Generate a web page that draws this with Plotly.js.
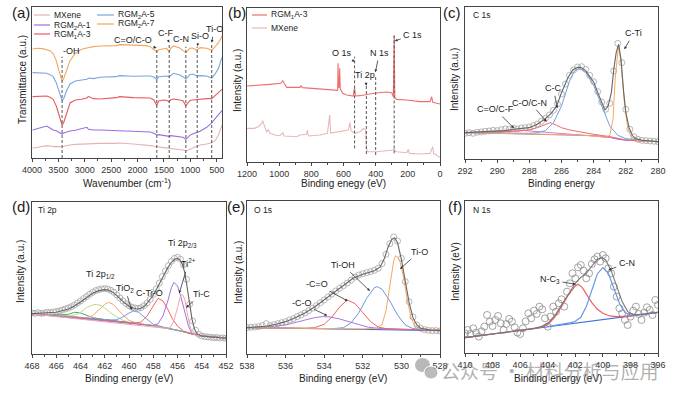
<!DOCTYPE html>
<html><head><meta charset="utf-8">
<script src="https://cdn.plot.ly/plotly-3.0.1.min.js"></script>
<style>html,body{margin:0;padding:0;background:#fff}#chart{width:675px;height:395px}</style>
</head><body><div id="chart"></div>
<script>
// ---------- (a) FTIR ----------
const ftirWn = [3990,3900,3800,3720,3660,3600,3540,3490,3450,3430,3400,3350,3280,3180,3060,2960,2930,2840,2710,2400,2340,2080,1830,1760,1690,1635,1600,1510,1450,1400,1370,1320,1200,1140,1085,1010,960,870,815,690,595,530,470,430,400];
const ftirRGM7 = [327,329,328,324,322,314,292,262,238,231,238,262,292,314,326,330,331,334,336,337,340,338,337,334,326,318,325,327,329,319,329,336,330,322,316,329,330,323,331,329,323,334,345,356,366];
const ftirRGM5 = [256,255,253,254,250,244,226,200,180,172,178,200,222,231,234,236,240,238,242,244,247,245,246,246,243,235,244,246,246,243,248,254,249,244,236,250,252,246,247,246,240,252,268,284,302];
const ftirRGM3 = [184,185,184,186,182,176,156,130,106,99,106,132,165,174,176,180,185,178,177,181,184,181,181,180,174,157,171,174,173,168,175,177,174,172,157,172,174,176,177,178,178,187,195,200,206];
const ftirRGM1 = [84,88,92,96,90,84,82,78,74,72,75,78,81,83,88,92,86,84,84,82,83,81,79,78,74,69,70,67,66,65,67,66,65,62,56,68,72,77,80,92,105,118,128,136,142];
const ftirMXene = [29,31,34,37,36,34,35,34,33,33,35,37,39,41,42,43,43,44,44,44,45,42,39,37,35,33,33,31,30,28,28,27,26,24,21,26,30,36,39,42,46,52,68,85,99];
const ftirBands = [3430,1635,1400,1085,870,595];
const ftirBandNames = ['-OH','C=O/C-O','C-F','C-N','Si-O','Ti-O'];
const ftirSeriesNames = ['MXene','RGM<sub>2</sub>A-1','RGM<sub>1</sub>A-3','RGM<sub>2</sub>A-5','RGM<sub>2</sub>A-7'];

// ---------- (b) XPS survey ----------
const surveyBE_RGM = [1200,1155,1057,990,978,970,953,870,864,855,829,746,663,642,636,634,631,626,624,620,605,580,540,531,527,497,458,435,400,331,300,290,285,281,269,207,124,62,52,45,10,0];
const surveyRGM = [227,228,232,235,243,236,223,223,228,222,221,217,215,213,214,295,222,224,280,218,205,200,197,222,197,198,201,204,206,209,207,195,380,192,187,185,180,180,195,178,173,173];
const surveyBE_MX = [1200,1155,1130,1109,1103,1095,1088,1078,1067,1057,1026,995,976,970,891,870,830,825,818,746,700,686,680,622,570,560,552,528,497,476,462,457,451,394,331,290,285,280,269,207,197,190,124,62,45,40,31,10,0];
const surveyMX = [100,100,105,115,123,110,100,90,95,85,80,78,87,77,75,80,82,95,77,80,85,140,86,90,95,117,92,85,90,100,95,40,30,30,32,35,40,32,30,27,37,25,23,25,45,24,23,15,15];
const surveyLines = [531,458,400,285];
const surveyLineNames = ['O 1s','Ti 2p','N 1s','C 1s'];

// ---------- (c) C 1s ----------
const c1sBE = [292,291.75,291.5,291.25,291,290.75,290.5,290.25,290,289.75,289.5,289.25,289,288.75,288.5,288.25,288,287.75,287.5,287.25,287,286.75,286.5,286.25,286,285.75,285.5,285.25,285,284.75,284.5,284.25,284,283.75,283.5,283.25,283,282.75,282.5,282.25,282,281.75,281.5,281.25,281,280.75,280.5,280.25,280];
const c1sData = [78,80,78,81,82,84,85,87,86,89,91,90,93,91,94,95,97,101,106,114,123,133,147,166,196,226,252,268,277,278,270,252,233,203,172,150,168,265,348,290,150,90,68,60,57,56,55,54,53];
const c1sEnvBE = [292,291,290,289.5,289,288.5,288,287.5,287,286.6,286.3,286,285.6,285.3,285,284.8,284.5,284.2,284,283.7,283.5,283.3,283.1,282.9,282.75,282.6,282.45,282.3,282.15,282,281.8,281.6,281.4,281,280.5,280];
const c1sEnv = [80,82,84,86,90,92,95,105,122,140,160,200,245,268,276,276,266,245,232,195,170,148,160,200,270,320,345,300,210,140,95,72,62,57,55,53];
const c1sCC_BE = [292,289,288,287.5,287,286.5,286,285.5,285.2,284.9,284.5,284,283.5,283,282.5,282,281,280];
const c1sCC = [80,78,78,80,86,110,160,235,265,273,262,222,160,100,72,62,57,53];
const c1sCTi_BE = [292,288,285,284,283.3,283,282.8,282.65,282.45,282.3,282.1,281.9,281.7,281.4,281,280];
const c1sCTi = [80,77,73,70,66,72,120,250,343,290,175,100,70,58,55,53];
const c1sCO_BE = [292,290,289,288,287.5,287,286.7,286.3,286,285.5,285,284,283,282,280];
const c1sCO = [80,81,84,88,95,105,110,102,95,88,83,75,68,58,53];
const c1sCF_BE = [292,290.5,289.5,289,288.5,287.5,286.5,285,283,282,280];
const c1sCF = [80,82,86,88,87,83,78,74,66,58,53];
const c1sBg_BE = [292,290,288,286,284,283,282.5,282,281,280];
const c1sBg = [80,78,77,75,71,66,60,57,55,53];

// ---------- (d) Ti 2p ----------
const ti2pBE = [468,467.75,467.5,467.25,467,466.75,466.5,466.25,466,465.75,465.5,465.25,465,464.75,464.5,464.25,464,463.75,463.5,463.25,463,462.75,462.5,462.25,462,461.75,461.5,461.25,461,460.75,460.5,460.25,460,459.75,459.5,459.25,459,458.75,458.5,458.25,458,457.75,457.5,457.25,457,456.75,456.5,456.25,456,455.75,455.5,455.25,455,454.75,454.5,454.25,454,453.75,453.5,453.25,453,452.75,452.5,452.25,452];
const ti2pData = [124,123,125,123,124,126,125,127,128,130,133,136,139,143,148,154,160,167,173,180,186,191,194,196,197,196,192,186,178,169,160,152,146,141,139,138,140,146,154,165,180,196,214,233,250,266,279,288,291,285,268,225,150,100,72,60,55,53,52,51,50,50,49,49,48];
const ti2pEnvBE = [468,467,466,465,464.5,464,463.5,463,462.5,462,461.7,461.3,461,460.5,460,459.6,459.3,459,458.7,458.3,458,457.6,457.2,456.8,456.5,456.2,456,455.8,455.6,455.4,455.2,455,454.8,454.6,454.4,454,453,452];
const ti2pEnv = [122,123,126,136,145,157,170,183,191,194,193,185,176,158,144,138,136,138,145,162,177,204,232,260,276,286,288,283,270,245,200,148,105,76,62,55,51,48];
const tiBg_BE = [468,466,464,462,460,458,456,455,454,453,452];
const tiBg = [121,118,110,104,95,86,72,63,55,51,49];
const tiLG_BE = [468,466,465,464.5,464,463.5,463,462.7,462.3,462,461.5,461,460.5,460,458,456,454,452];
const tiLG = [121,118,115,118,126,140,148,150,146,139,124,112,102,96,86,72,55,49];
const tiOr_BE = [468,464,463.5,463,462.5,462,461.7,461.3,461,460.5,460,459.5,459,458,456,454,452];
const tiOr = [121,110,110,116,132,150,156,150,138,118,102,95,91,86,72,55,49];
const tiBl_BE = [468,462,461.5,461,460.5,460,459.6,459.2,458.8,458.3,458,457,456,454,452];
const tiBl = [121,104,103,104,112,124,130,126,114,98,90,80,72,55,49];
const tiRd_BE = [468,460,459.5,459,458.5,458,457.6,457.2,456.8,456.4,456,455.5,455,454,452];
const tiRd = [121,95,94,97,115,145,168,160,135,105,85,70,62,55,49];
const tiPu_BE = [468,458,457.6,457.2,456.8,456.5,456.3,456,455.7,455.4,455.1,454.8,454.4,452];
const tiPu = [121,86,92,115,160,200,216,205,170,125,85,62,56,49];
const tiPk_BE = [468,457,456.6,456.3,456,455.75,455.6,455.4,455.2,455,454.8,454.5,454,452];
const tiPk = [121,78,80,100,140,175,180,165,125,88,65,57,55,49];
const tiGr_BE = [468,466,465,464.5,464,463.5,463,462,460,458,456,454,452];
const tiGr = [121,118,120,126,124,117,110,104,95,86,72,55,49];

// ---------- (e) O 1s ----------
const o1sBE = [538,537.8,537.6,537.4,537.2,537,536.8,536.6,536.4,536.2,536,535.8,535.6,535.4,535.2,535,534.8,534.6,534.4,534.2,534,533.8,533.6,533.4,533.2,533,532.8,532.6,532.4,532.2,532,531.8,531.6,531.4,531.2,531,530.8,530.6,530.4,530.2,530,529.8,529.6,529.4,529.2,529,528.8,528.6,528.4,528.2,528];
const o1sData = [80,81,82,83,86,92,86,89,92,95,98,103,107,113,118,124,131,138,146,155,163,172,181,190,198,206,214,223,232,238,242,245,248,252,258,272,300,332,352,340,288,218,158,112,88,78,74,72,71,71,70];
const o1sEnvBE = [538,537.5,537,536.5,536,535.5,535,534.5,534,533.5,533,532.5,532,531.7,531.4,531.1,530.9,530.7,530.5,530.35,530.2,530,529.8,529.6,529.4,529.2,529,528.5,528];
const o1sEnv = [80,81,84,90,98,110,124,142,163,185,205,228,240,246,251,262,285,320,345,350,335,285,215,155,110,88,78,73,71];
const oPu_BE = [538,537,536,535.5,535,534.5,534.1,533.7,533.2,532.7,532.2,531.7,531,530,528];
const oPu = [80,82,88,95,103,110,113,112,106,97,88,81,77,75,72];
const oRd_BE = [538,535,534.5,534,533.6,533.2,532.8,532.4,532,531.6,531.2,530.8,530,528];
const oRd = [80,78,80,90,112,142,163,152,125,98,82,77,75,72];
const oBl_BE = [538,533.5,533,532.6,532.2,531.8,531.4,531.25,531,530.6,530.2,529.8,529.4,529,528];
const oBl = [80,77,80,95,125,168,200,203,195,160,118,88,77,75,73];
const oOr_BE = [538,532,531.3,531,530.8,530.6,530.4,530.3,530.1,529.9,529.7,529.5,529.3,529,528];
const oOr = [80,76,78,90,130,200,280,296,285,235,165,110,85,76,73];
const oBg_BE = [538,533,528];
const oBg = [80,75,71];

// ---------- (f) N 1s ----------
const n1sBE = [410,409.8,409.6,409.4,409.2,409,408.8,408.6,408.4,408.2,408,407.8,407.6,407.4,407.2,407,406.8,406.6,406.4,406.2,406,405.8,405.6,405.4,405.2,405,404.8,404.6,404.4,404.2,404,403.8,403.6,403.4,403.2,403,402.8,402.6,402.4,402.2,402,401.8,401.6,401.4,401.2,401,400.8,400.6,400.4,400.2,400,399.8,399.6,399.4,399.2,399,398.8,398.6,398.4,398.2,398,397.8,397.6,397.4,397.2,397,396.8,396.6,396.4,396.2,396];
const n1sData = [60,70,58,75,62,50,66,80,115,95,82,100,112,90,70,88,103,95,78,62,58,75,96,120,105,128,118,140,132,105,80,110,140,125,150,162,140,185,210,240,225,258,265,248,225,240,268,282,290,275,295,285,255,240,200,170,135,120,100,85,110,128,140,118,100,122,138,130,115,160,145];
const n1sEnvBE = [410,406,405,404.5,404,403.5,403,402.5,402,401.6,401.2,400.8,400.4,400.1,399.8,399.4,399,398.6,398.2,397.8,397,396];
const n1sEnv = [47,68,74,80,90,112,145,180,210,228,240,262,282,288,280,248,200,155,125,115,118,123];
const n1sNC3_BE = [410,408,406,405,404.5,404,403.5,403,402.5,402,401.8,401.5,401.2,400.8,400.4,400,399.5,399,398.5,398,397,396];
const n1sNC3 = [47,58,68,74,78,86,108,140,175,202,207,198,178,152,132,120,112,110,111,112,118,123];
const n1sCN_BE = [404,403,402.3,402,401.6,401.2,400.8,400.4,400,399.6,399.2,398.8,398.4,398,397,396];
const n1sCN = [80,86,92,96,108,140,190,238,257,240,195,150,122,115,117,123];
const n1sBg_BE = [410,396];
const n1sBg = [47,123];

// ---------- build ----------
const FF = 'Liberation Sans, Arial, Helvetica, sans-serif';
const W = 675, H = 395;
const P = v => v / W, Q = v => 1 - v / H;
const traces = [];
function ln(x, y, color, ax, w) {
  traces.push({type:'scatter', mode:'lines', x:x, y:y, xaxis:'x'+ax, yaxis:'y'+ax,
    line:{color:color, width:w||1.1}, hoverinfo:'skip', showlegend:false});
}
function dots(x, y, ax, size, color) {
  traces.push({type:'scatter', mode:'markers', x:x, y:y, xaxis:'x'+ax, yaxis:'y'+ax,
    marker:{symbol:'circle-open', size:size, color:color, line:{width:0.8}}, hoverinfo:'skip', showlegend:false});
}
const colA = {mx:'#e6b3b3', r1:'#9a6ee0', r3:'#e85a5e', r5:'#7aa6dd', r7:'#f4a55c'};
// (a)
ln(ftirWn, ftirMXene, colA.mx, '');
ln(ftirWn, ftirRGM1, colA.r1, '');
ln(ftirWn, ftirRGM3, colA.r3, '');
ln(ftirWn, ftirRGM5, colA.r5, '');
ln(ftirWn, ftirRGM7, colA.r7, '');
// (b)
ln(surveyBE_MX, surveyMX, '#e8b8b8', '2');
ln(surveyBE_RGM, surveyRGM, '#ee6e6e', '2');
// (c)
dots(c1sBE, c1sData, '3', 6, '#a5a5a5');
ln(c1sBg_BE, c1sBg, '#a070d0', '3', 1);
ln(c1sCF_BE, c1sCF, '#d080c8', '3', 1);
ln(c1sCO_BE, c1sCO, '#f06a6a', '3', 1);
ln(c1sCC_BE, c1sCC, '#6fa0e0', '3', 1);
ln(c1sCTi_BE, c1sCTi, '#f5a860', '3', 1);
ln(c1sEnvBE, c1sEnv, '#666666', '3', 1.1);
// (d)
dots(ti2pBE, ti2pData, '4', 6, '#a5a5a5');
ln(tiBg_BE, tiBg, '#2f8f6f', '4', 1);
ln(tiGr_BE, tiGr, '#4aa860', '4', 1);
ln(tiLG_BE, tiLG, '#b9d98c', '4', 1);
ln(tiOr_BE, tiOr, '#f5a860', '4', 1);
ln(tiBl_BE, tiBl, '#6fa0e0', '4', 1);
ln(tiRd_BE, tiRd, '#f06464', '4', 1);
ln(tiPu_BE, tiPu, '#a070e0', '4', 1);
ln(tiPk_BE, tiPk, '#f3a3ad', '4', 1);
ln(ti2pEnvBE, ti2pEnv, '#666666', '4', 1.1);
// (e)
dots(o1sBE, o1sData, '5', 6, '#a5a5a5');
ln(oBg_BE, oBg, '#3a66d0', '5', 1);
ln(oPu_BE, oPu, '#a878d8', '5', 1);
ln(oRd_BE, oRd, '#f06060', '5', 1);
ln(oBl_BE, oBl, '#6898e0', '5', 1);
ln(oOr_BE, oOr, '#f5a860', '5', 1);
ln(o1sEnvBE, o1sEnv, '#666666', '5', 1.1);
// (f)
dots(n1sBE, n1sData, '6', 7, '#8c8c8c');
ln(n1sBg_BE, n1sBg, '#3a70e0', '6', 1.2);
ln(n1sNC3_BE, n1sNC3, '#f06060', '6', 1.2);
ln(n1sCN_BE, n1sCN, '#6898e0', '6', 1.2);
ln(n1sEnvBE, n1sEnv, '#777777', '6', 1.1);

function xax(px0, px1, range, dtick, minor, anchor) {
  return {domain:[P(px0), P(px1)], range:range, autorange:false, anchor:anchor,
    showline:true, linecolor:'#444', linewidth:1, mirror:true,
    ticks:'outside', ticklen:3, tickwidth:1, tickcolor:'#444', dtick:dtick, tick0:0,
    tickfont:{size:9, color:'#333', family:FF}, showgrid:false, zeroline:false,
    minor:{ticks:'outside', ticklen:2, dtick:minor, tick0:0, tickcolor:'#444', tickwidth:1, showgrid:false},
    fixedrange:true};
}
function yax(top, bot, range, anchor) {
  return {domain:[Q(bot), Q(top)], range:range, autorange:false, anchor:anchor,
    showline:true, linecolor:'#444', linewidth:1, mirror:true, ticks:'', showticklabels:false,
    showgrid:false, zeroline:false, fixedrange:true};
}

const ann = [];
function txt(x, y, text, size, opts) {
  ann.push(Object.assign({xref:'paper', yref:'paper', x:P(x), y:Q(y), text:text, showarrow:false,
    xanchor:'center', yanchor:'middle',
    font:{size:size, color:'#222', family:FF}}, opts||{}));
}
function dlab(ax, x, y, text, size, opts) {
  ann.push(Object.assign({xref:'x'+ax, yref:'y'+ax, x:x, y:y, text:text, showarrow:false,
    xanchor:'center', yanchor:'middle',
    font:{size:size||9, color:'#222', family:FF}}, opts||{}));
}
function arrow(ax, tx, ty, lx, ly, text, size) {
  ann.push({xref:'x'+ax, yref:'y'+ax, axref:'x'+ax, ayref:'y'+ax, x:tx, y:ty, ax:lx, ay:ly,
    text:text, showarrow:true, arrowhead:2, arrowsize:0.7, arrowwidth:0.8, arrowcolor:'#333',
    standoff:0, startstandoff:1, font:{size:size||9, color:'#222', family:FF}});
}
// panel letters
txt(21, 13, '(a)', 15); txt(237, 13, '(b)', 15); txt(452, 13, '(c)', 15);
txt(21, 206, '(d)', 15); txt(236, 206, '(e)', 15); txt(455, 206, '(f)', 15);
// axis titles
txt(127, 183, 'Wavenumber (cm<sup>-1</sup>)', 10);
txt(343, 183, 'Binding enegy (eV)', 10);
txt(561, 183, 'Binding energy', 10);
txt(129, 378, 'Binding energy (eV)', 10);
txt(343, 378, 'Binding energy (eV)', 10);
txt(558, 378, 'Binding energy (eV)', 10);
txt(23, 80, 'Transmittance (a.u.)', 10, {textangle:-90});
txt(238, 80, 'Intensity (a.u.)', 10, {textangle:-90});
txt(455, 80, 'Intensity (a.u.)', 10, {textangle:-90});
txt(20, 272, 'Intensity (a.u.)', 10, {textangle:-90});
txt(238, 272, 'Intensity (a.u.)', 10, {textangle:-90});
txt(455, 272, 'Intensity (eV)', 10, {textangle:-90});

// legends (a) and (b)
const shapes = [];
function legItem(x0, x1, y, color, text) {
  shapes.push({type:'line', xref:'paper', yref:'paper', x0:P(x0), x1:P(x1), y0:Q(y), y1:Q(y), line:{color:color, width:1.2}});
  txt(x1 + 2, y, text, 8.5, {xanchor:'left'});
}
legItem(34, 50, 15, colA.mx, ftirSeriesNames[0]);
legItem(34, 50, 25, colA.r1, ftirSeriesNames[1]);
legItem(34, 50, 34, colA.r3, ftirSeriesNames[2]);
legItem(97, 114, 15, colA.r5, ftirSeriesNames[3]);
legItem(97, 114, 24, colA.r7, ftirSeriesNames[4]);
legItem(252, 267, 15, '#ee6e6e', 'RGM<sub>1</sub>A-3');
legItem(252, 267, 28, '#e8b8b8', 'MXene');

// (a) dashed bands + labels
const ftirTops = [304, 328, 344, 334, 334, 344];
ftirBands.forEach((b, i) => shapes.push({type:'line', xref:'x', yref:'y', x0:b, x1:b, y0:0, y1:ftirTops[i], line:{color:'#555', width:1, dash:'3px,2px'}}));
arrow('', 3430, 306, 3250, 320, ftirBandNames[0], 9);
arrow('', 1640, 330, 2090, 354, ftirBandNames[1], 9);
arrow('', 1400, 346, 1480, 374, ftirBandNames[2], 9);
arrow('', 1085, 336, 1180, 357, ftirBandNames[3], 9);
arrow('', 870, 336, 816, 365, ftirBandNames[4], 9);
arrow('', 595, 346, 551, 386, ftirBandNames[5], 9);

// (b) dashed lines + labels
const sTop = [315, 230, 257, 377], sBot = [40, 23, 20, 25];
surveyLines.forEach((b, i) => shapes.push({type:'line', xref:'x2', yref:'y2', x0:b, x1:b, y0:sBot[i], y1:sTop[i], line:{color:'#555', width:1, dash:'3px,2px'}}));
arrow('2', 531, 300, 611, 326, surveyLineNames[0], 9);
arrow('2', 458, 228, 466, 260, surveyLineNames[1], 9);
arrow('2', 402, 268, 377, 326, surveyLineNames[2], 9);
arrow('2', 281, 362, 170, 381, surveyLineNames[3], 9);

// (c) labels
dlab('3', 291.6, 433, 'C 1s', 8.5, {xanchor:'left'});
arrow('3', 282.09, 330, 281.53, 378, 'C-Ti', 9);
arrow('3', 286.26, 153, 286.5, 213, 'C-C', 9);
arrow('3', 286.92, 113, 287.96, 170, 'C-O/C-N', 9);
arrow('3', 288.95, 93, 290.13, 150, 'C=O/C-F', 9);
// (d)
dlab('4', 467.7, 433, 'Ti 2p', 8.5, {xanchor:'left'});
dlab('4', 462.39, 238, 'Ti 2p<sub>1/2</sub>', 9);
arrow('4', 459.78, 133, 460.33, 198, 'TiO<sub>2</sub>', 9);
arrow('4', 458.05, 160, 458.27, 183, 'C-Ti-O', 9);
dlab('4', 455.58, 333, 'Ti 2p<sub>2/3</sub>', 9);
arrow('4', 455.86, 183, 455.11, 273, 'Ti<sup>2+</sup>', 9);
arrow('4', 455.3, 140, 454.01, 180, 'Ti-C', 9);
// (e)
dlab('5', 537.75, 433, 'O 1s', 8.5, {xanchor:'left'});
arrow('5', 530.07, 256, 529.07, 308, 'Ti-O', 9);
arrow('5', 531.63, 190, 533.04, 268, 'Ti-OH', 9);
arrow('5', 532.78, 160, 534.39, 210, '-C=O', 9);
arrow('5', 533.84, 116, 535.17, 153, '-C-O', 9);
// (f)
dlab('6', 409.6, 430, 'N 1s', 8.5, {xanchor:'left'});
arrow('6', 399.6, 250, 398.27, 270, 'C-N', 9);
arrow('6', 401.95, 207, 403.84, 220, 'N-C<sub>3</sub>', 9);

// watermark
shapes.push({type:'circle', xref:'paper', yref:'paper', x0:P(415), x1:P(430), y0:Q(372), y1:Q(358), fillcolor:'rgba(160,160,160,0.75)', line:{width:0}});
shapes.push({type:'circle', xref:'paper', yref:'paper', x0:P(424), x1:P(438), y0:Q(379), y1:Q(366), fillcolor:'rgba(175,175,175,0.85)', line:{color:'#fff', width:1}});
ann.push({xref:'paper', yref:'paper', x:P(550), y:Q(370), xanchor:'center', yanchor:'middle', text:'公众号 · 材料分析与应用', showarrow:false,
  font:{size:19, color:'rgba(110,110,110,0.55)', family:'Noto Sans CJK SC, sans-serif'}});

const layout = {
  width:W, height:H, margin:{l:0, r:0, t:0, b:0}, paper_bgcolor:'#fff', plot_bgcolor:'#fff',
  showlegend:false, font:{family:FF, color:'#222'},
  xaxis: xax(32, 222, [4000, 400], 500, 250, 'y'),
  yaxis: yax(7.3, 158, [0, 452], 'x'),
  xaxis2: xax(247, 440, [1200, 0], 200, 100, 'y2'),
  yaxis2: yax(8.3, 161.7, [0, 460], 'x2'),
  xaxis3: xax(465, 658, [292, 280], 2, 1, 'y3'),
  yaxis3: yax(6.7, 159.3, [0, 458], 'x3'),
  xaxis4: xax(32, 226, [468, 452], 2, 1, 'y4'),
  yaxis4: yax(202.3, 354.3, [0, 456], 'x4'),
  xaxis5: xax(247, 440, [538, 528], 2, 1, 'y5'),
  yaxis5: yax(201, 354.3, [0, 460], 'x5'),
  xaxis6: xax(465, 658, [410, 396], 2, 1, 'y6'),
  yaxis6: yax(201, 353.3, [0, 457], 'x6'),
  annotations: ann, shapes: shapes
};
Plotly.newPlot('chart', traces, layout, {staticPlot:true, displayModeBar:false});
</script></body></html>
